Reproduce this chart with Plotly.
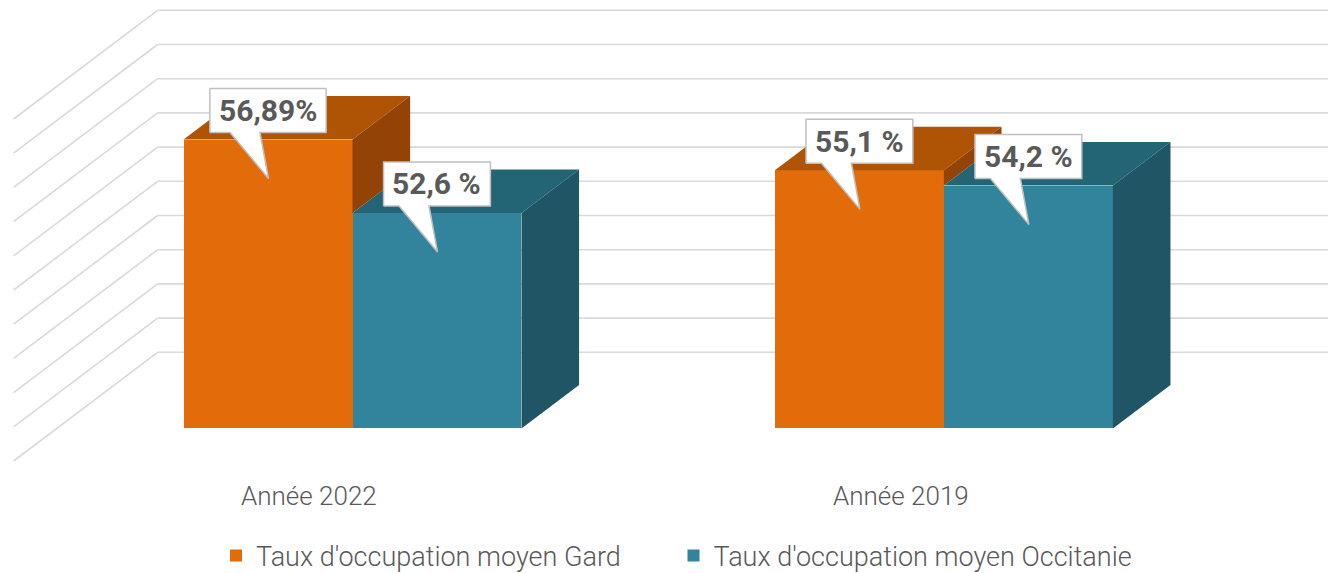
import plotly.graph_objects as go

# ---------------- data ----------------
categories = ["Année 2022", "Année 2019"]
series_names = ["Taux d'occupation moyen Gard", "Taux d'occupation moyen Occitanie"]
gard = [56.89, 55.1]
occitanie = [52.6, 54.2]
gard_labels = ["56,89%", "55,1 %"]
occitanie_labels = ["52,6 %", "54,2 %"]
axis_min, axis_max, axis_step = 40, 60, 2

# ---------------- style / layout ----------------
W, H = 1328, 573
CAT_PX = 591.4          # pixels per category on the back wall
VAL_PX = 17.1           # pixels per value unit
CAT0_PX = 453.3         # x pixel of first category centre (back wall)
BASE_PY = 352.3         # y pixel of axis_min on back wall
DEPTH_PX = (-144.0, 108.7)   # screen offset from back wall to front of floor
BAR_W = 1 / 3.5         # gap width 150 %
Z_BACK, Z_FRONT = 0.3, 0.7

front_cols = ["#E36C0A", "#31849B"]
top_cols = ["#AF5305", "#236574"]
side_cols = ["#944306", "#1F5565"]
grid_col = "#D9D9D9"
text_col = "#595959"
FONT = "Roboto, 'Open Sans', sans-serif"
LEGEND_X_PX = [216, 673.5]   # left edge of each legend entry
LEGEND_Y_PX = 556

DX = DEPTH_PX[0] / CAT_PX
DY = -DEPTH_PX[1] / VAL_PX


def proj(xc, v, z):
    return xc + DX * z, v + DY * z


fig = go.Figure()
series = [gard, occitanie]
labels = [gard_labels, occitanie_labels]
n_ser = len(series)

# back wall and side wall gridlines (below traces)
shapes = []
v = axis_min
while v <= axis_max + 1e-9:
    x0, y0 = proj(-0.5, v, 0)
    x1, y1 = proj(len(categories) - 0.5, v, 0)
    x2, y2 = proj(-0.5, v, 1)
    shapes.append(dict(type="line", xref="x", yref="y", x0=x0, y0=y0, x1=x1, y1=y1,
                       line=dict(color=grid_col, width=1.6), layer="below"))
    shapes.append(dict(type="line", xref="x", yref="y", x0=x0, y0=y0, x1=x2, y1=y2,
                       line=dict(color=grid_col, width=1.6), layer="below"))
    v += axis_step

# front faces as bars
legend_keys = ["legend", "legend2"]
for s in range(n_ser):
    fig.add_trace(go.Bar(
        x=list(range(len(categories))),
        y=[val - axis_min for val in series[s]],
        base=axis_min + DY * Z_FRONT,
        width=BAR_W,
        offset=DX * Z_FRONT - BAR_W + s * BAR_W,
        marker=dict(color=front_cols[s], line=dict(width=0)),
        name=series_names[s],
        legend=legend_keys[s],
        hoverinfo="skip",
    ))


def poly(pts, color):
    xs = [p[0] for p in pts] + [pts[0][0]]
    ys = [p[1] for p in pts] + [pts[0][1]]
    fig.add_trace(go.Scatter(x=xs, y=ys, mode="lines", fill="toself", fillcolor=color,
                             line=dict(width=0, color=color), showlegend=False,
                             hoverinfo="skip"))


# top and side faces
for c in range(len(categories)):
    for s in range(n_ser):
        val = series[s][c]
        xl = c - BAR_W + s * BAR_W
        xr = xl + BAR_W
        poly([proj(xl, val, Z_FRONT), proj(xr, val, Z_FRONT),
              proj(xr, val, Z_BACK), proj(xl, val, Z_BACK)], top_cols[s])
        low = axis_min
        if s + 1 < n_ser:
            low = max(low, series[s + 1][c])
        if val > low:
            poly([proj(xr, low, Z_FRONT), proj(xr, low, Z_BACK),
                  proj(xr, val, Z_BACK), proj(xr, val, Z_FRONT)], side_cols[s])

# callout data labels
LBL_SIZE = 30
CHAR_EM = {",": 0.22, " ": 0.25, "%": 0.73}
BOX_H, BOX_GAP, TIP_DROP, PAD = 44, 7, 39, 10
TAIL_L, TAIL_R, TIP_X = -38, -8, 0.5
annotations = []
for c in range(len(categories)):
    for s in range(n_ser):
        val = series[s][c]
        txt = labels[s][c]
        centre = c - BAR_W + s * BAR_W + BAR_W / 2
        cx, ytop = proj(centre, val, Z_FRONT)
        bw = sum(CHAR_EM.get(ch, 0.565) for ch in txt) * LBL_SIZE + 2 * PAD
        yb = ytop + BOX_GAP / VAL_PX
        yt = yb + BOX_H / VAL_PX
        ytip = ytop - TIP_DROP / VAL_PX
        hx = bw / 2 / CAT_PX
        pts = [(cx - hx, yb), (cx + TAIL_L / CAT_PX, yb), (cx + TIP_X / CAT_PX, ytip),
               (cx + TAIL_R / CAT_PX, yb), (cx + hx, yb), (cx + hx, yt), (cx - hx, yt)]
        xs = [p[0] for p in pts] + [pts[0][0]]
        ys = [p[1] for p in pts] + [pts[0][1]]
        fig.add_trace(go.Scatter(x=xs, y=ys, mode="lines", fill="toself", fillcolor="white",
                                 line=dict(width=1.5, color="#BFBFBF"), showlegend=False,
                                 hoverinfo="skip"))
        annotations.append(dict(x=cx, y=(yb + yt) / 2, xref="x", yref="y", text=txt,
                                showarrow=False, xanchor="center", yanchor="middle",
                                font=dict(family=FONT, size=LBL_SIZE, color=text_col,
                                          weight="bold")))

# category labels on front edge of floor
for c, name in enumerate(categories):
    x, y = proj(c, axis_min, 1)
    annotations.append(dict(x=x, y=y, xref="x", yref="y", text=name, showarrow=False,
                            xanchor="center", yanchor="middle", yshift=-35,
                            font=dict(family=FONT, size=26, color=text_col, weight=300)))

x_range = [(0 - CAT0_PX) / CAT_PX, (W - CAT0_PX) / CAT_PX]
y_range = [axis_min - (H - BASE_PY) / VAL_PX, axis_min + BASE_PY / VAL_PX]

legend_font = dict(family=FONT, size=27, color=text_col, weight=300)
legends = {}
for k, key in enumerate(legend_keys):
    legends[key] = dict(orientation="h", x=LEGEND_X_PX[k] / W, xanchor="left",
                        y=1 - LEGEND_Y_PX / H, yanchor="middle",
                        font=legend_font, bgcolor="rgba(0,0,0,0)")

fig.update_layout(
    width=W, height=H,
    margin=dict(l=0, r=0, t=0, b=0, autoexpand=False),
    paper_bgcolor="white", plot_bgcolor="white",
    barmode="overlay",
    bargap=0,
    showlegend=True,
    hovermode=False,
    xaxis=dict(range=x_range, visible=False, fixedrange=True),
    yaxis=dict(range=y_range, visible=False, fixedrange=True),
    shapes=shapes,
    annotations=annotations,
    **legends,
)

post = (
    "document.documentElement.style.margin='0';"
    "document.body.style.margin='0';"
    "document.documentElement.style.overflow='hidden';"
    "document.body.style.overflow='hidden';"
)
fig.write_html("out.html", config={"displayModeBar": False}, post_script=post)
